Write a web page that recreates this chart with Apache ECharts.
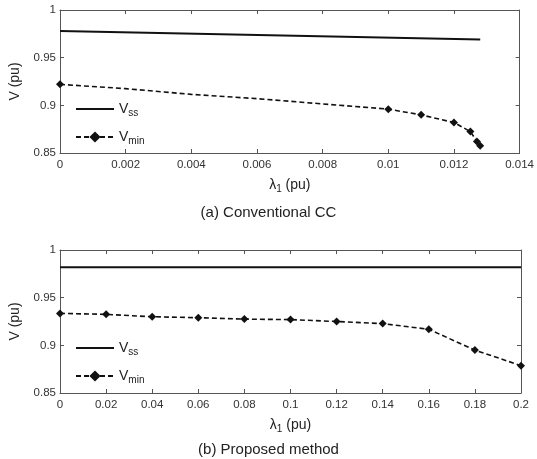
<!DOCTYPE html>
<html>
<head>
<meta charset="utf-8">
<script src="https://cdn.jsdelivr.net/npm/echarts@6/dist/echarts.min.js"></script>
<style>
  html, body { margin: 0; padding: 0; background: #fff; }
  #main { width: 537px; height: 459px; }
</style>
</head>
<body>
<div id="main"></div>
<script>
// (a) conventional CC
const ccLambda = [0, 0.002, 0.004, 0.006, 0.008, 0.01, 0.011, 0.012, 0.0125, 0.0127, 0.0128]
const ccVmin = [0.922, 0.9175, 0.9115, 0.907, 0.9015, 0.896, 0.89, 0.882, 0.8725, 0.862, 0.8575]
const ccMarked = [0, 5, 6, 7, 8, 9, 10] // points that carry a marker
const ccSsLambda = [0, 0.0128]
const ccVss = [0.978, 0.969]

// (b) proposed method
const pmLambda = [0, 0.02, 0.04, 0.06, 0.08, 0.1, 0.12, 0.14, 0.16, 0.18, 0.2]
const pmVmin = [0.9335, 0.9325, 0.930, 0.929, 0.9275, 0.927, 0.925, 0.9228, 0.9168, 0.895, 0.8787]
const pmSsLambda = [0, 0.2]
const pmVss = [0.9818, 0.9818]

const yTicks = ['0.85', '0.9', '0.95', '1']
const titles = ['(a) Conventional CC', '(b) Proposed method']

const FONT = 'Liberation Sans, Arial, sans-serif'
const chart = echarts.init(document.getElementById('main'))

function pairs(xs, ys) {
  return xs.map((x, i) => [x, ys[i]])
}

function xAxes(grid, max, interval) {
  const base = {
    gridIndex: grid,
    type: 'value',
    min: 0,
    max: max,
    interval: interval,
    splitLine: { show: false },
    axisLine: { onZero: false, lineStyle: { color: '#555', width: 1 } },
    axisTick: { inside: true, length: 4, lineStyle: { color: '#555' } }
  }
  return [
    Object.assign({}, base, {
      position: 'bottom',
      axisLabel: { color: '#333', fontSize: 11.5, fontFamily: FONT, margin: 6 },
      name: '{l|λ}{s|1}{l| (pu)}',
      nameLocation: 'middle',
      nameGap: 24,
      nameTextStyle: {
        fontFamily: FONT,
        rich: {
          l: { fontSize: 14, color: '#222', fontFamily: FONT },
          s: { fontSize: 10, color: '#222', fontFamily: FONT, padding: [7, 0, 0, 0] }
        }
      }
    }),
    Object.assign({}, base, { position: 'top', axisLabel: { show: false } })
  ]
}

function yAxes(grid) {
  const base = {
    gridIndex: grid,
    type: 'value',
    min: 0.85,
    max: 1,
    interval: 0.05,
    splitLine: { show: false },
    axisLine: { onZero: false, lineStyle: { color: '#555', width: 1 } },
    axisTick: { inside: true, length: 4, lineStyle: { color: '#555' } }
  }
  return [
    Object.assign({}, base, {
      position: 'left',
      axisLabel: {
        color: '#333', fontSize: 11.5, fontFamily: FONT, margin: 4,
        formatter: (v) => yTicks.find(t => Math.abs(+t - v) < 1e-6) || ''
      },
      name: 'V (pu)',
      nameLocation: 'middle',
      nameGap: 38,
      nameTextStyle: { fontSize: 14, color: '#222', fontFamily: FONT }
    }),
    Object.assign({}, base, { position: 'right', axisLabel: { show: false } })
  ]
}

function legend(top) {
  return {
    orient: 'vertical',
    left: 75,
    top: top,
    padding: 0,
    itemGap: 12,
    itemWidth: 38,
    itemHeight: 14,
    // no marker on the solid line
    data: [{ name: 'Vss', itemStyle: { opacity: 0 } }, { name: 'Vmin' }],
    formatter: (name) => '{v|V}{s|' + name.slice(1) + '}',
    textStyle: {
      fontFamily: FONT,
      rich: {
        v: { fontSize: 14, color: '#222', fontFamily: FONT },
        s: { fontSize: 10, color: '#222', fontFamily: FONT, padding: [8, 0, 0, 0] }
      }
    }
  }
}

const ssStyle = {
  type: 'line',
  name: 'Vss',
  symbol: 'none',
  lineStyle: { color: '#111', width: 2 },
  itemStyle: { color: '#111' }
}
const minStyle = {
  type: 'line',
  name: 'Vmin',
  symbol: 'diamond',
  symbolSize: 8,
  lineStyle: { color: '#111', width: 1.6, type: [5, 3] },
  itemStyle: { color: '#111' }
}

chart.setOption({
  animation: false,
  backgroundColor: '#fff',
  title: [
    { text: titles[0], left: 'center', top: 200, textStyle: { fontSize: 15, fontWeight: 'normal', color: '#222', fontFamily: FONT } },
    { text: titles[1], left: 'center', top: 437, textStyle: { fontSize: 15, fontWeight: 'normal', color: '#222', fontFamily: FONT } }
  ],
  grid: [
    { left: 60, right: 16, top: 10, height: 143 },
    { left: 60, right: 16, top: 250, height: 143 }
  ],
  legend: [legend(102), legend(341)],
  xAxis: xAxes(0, 0.014, 0.002).concat(xAxes(1, 0.2, 0.02)),
  yAxis: yAxes(0).concat(yAxes(1)),
  series: [
    Object.assign({}, ssStyle, { xAxisIndex: 0, yAxisIndex: 0, data: pairs(ccSsLambda, ccVss) }),
    Object.assign({}, minStyle, {
      xAxisIndex: 0, yAxisIndex: 0,
      data: pairs(ccLambda, ccVmin).map((p, i) =>
        ccMarked.includes(i) ? { value: p } : { value: p, symbol: 'none' })
    }),
    Object.assign({}, ssStyle, { xAxisIndex: 2, yAxisIndex: 2, data: pairs(pmSsLambda, pmVss) }),
    Object.assign({}, minStyle, { xAxisIndex: 2, yAxisIndex: 2, data: pairs(pmLambda, pmVmin) })
  ]
})
</script>
</body>
</html>
